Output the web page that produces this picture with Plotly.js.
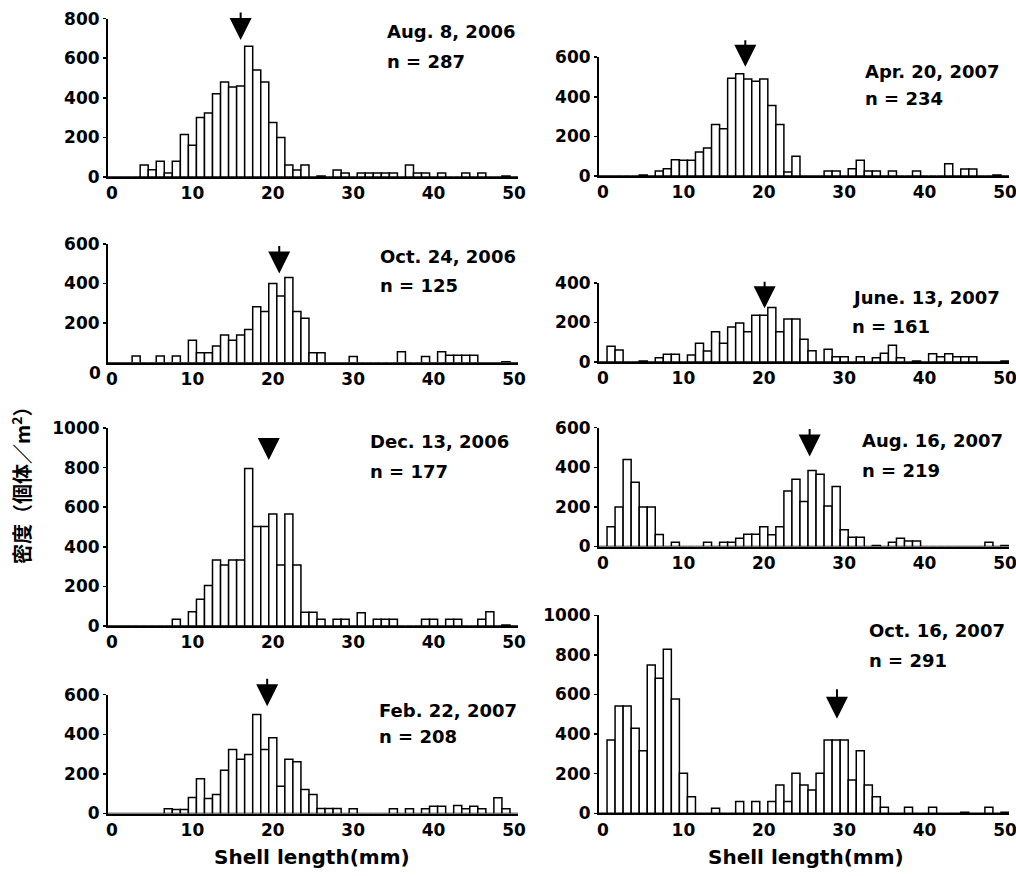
<!DOCTYPE html>
<html>
<head>
<meta charset="utf-8">
<script src="https://cdn.plot.ly/plotly-3.0.1.min.js"></script>
<style>
html,body{margin:0;padding:0;background:#ffffff;}
#chart{width:1016px;height:876px;}
</style>
</head>
<body>
<div id="chart"></div>
<script>
// ---------------- DATA ----------------
// shell-length size classes (mm), bin centres
const sizeClass = [0,1,2,3,4,5,6,7,8,9,10,11,12,13,14,15,16,17,18,19,20,21,22,23,24,25,26,27,28,29,30,31,32,33,34,35,36,37,38,39,40,41,42,43,44,45,46,47,48,49,50];

// densities (individuals / m2) per size class
const aug2006 = [0,0,0,0,60,37,80,20,80,215, 160,300,323,420,480,455,460,660,540,480, 275,200,60,35,60,0,5,0,35,20, 0,20,20,20,20,20,0,60,20,20, 0,20,0,0,20,0,20,0,0,5,0];
const oct2006 = [0,0,0,34,0,0,34,0,34,0, 114,50,50,84,140,114,140,168,283,258, 400,337,430,258,224,50,50,0,0,0, 31,0,0,0,0,0,55,0,0,31, 0,55,38,38,38,38,0,0,0,5,0];
const dec2006 = [0,0,0,0,0,0,0,0,34,0, 72,135,204,333,308,333,333,796,502,502, 566,308,566,308,69,69,34,0,34,34, 0,67,0,34,34,34,0,0,0,34, 34,0,34,34,0,0,34,72,0,5,0];
const feb2007 = [0,0,0,0,0,0,0,24,20,20, 81,175,76,96,219,323,274,298,500,323, 382,138,274,261,121,96,25,25,25,0, 24,0,0,0,0,24,0,24,0,24, 37,37,0,40,24,37,24,0,79,24,0];
const apr2007 = [0,0,0,0,0,5,0,25,37,82, 80,80,121,141,260,239,494,516,490,479, 490,356,260,20,100,0,0,0,25,25, 0,37,80,25,25,0,25,0,0,25, 0,0,0,62,0,35,35,0,0,5,0];
const jun2007 = [0,80,60,0,0,5,0,22,39,39, 0,35,95,55,153,95,177,197,153,236, 236,275,153,217,217,115,57,0,64,27, 27,0,27,0,22,44,84,22,0,5, 0,42,27,42,27,27,27,0,0,0,5];
const aug2007 = [0,100,200,440,325,200,200,60,0,22, 0,0,0,22,0,22,22,42,62,62, 100,59,100,280,340,227,384,365,205,303, 84,47,47,0,5,0,22,42,28,28, 0,0,0,0,0,0,0,0,22,0,5];
const oct2007 = [0,370,542,542,429,316,749,682,828,577, 202,84,0,0,25,0,0,59,0,59, 0,59,143,59,202,143,118,202,370,370, 370,168,316,143,84,30,0,0,30,0, 0,30,0,0,0,5,0,0,30,0,5];

// sampling dates, sample sizes, modal shell length (arrow) and its density
const dateLabels = ["Aug. 8, 2006","Apr. 20, 2007","Oct. 24, 2006","June. 13, 2007","Dec. 13, 2006","Aug. 16, 2007","Feb. 22, 2007","Oct. 16, 2007"];
const sampleN    = [287, 234, 125, 161, 177, 219, 208, 291];
const modeLength = [16.0, 17.7, 20.8, 20.1, 19.5, 25.7, 19.3, 29.1];
const modeLevel  = [692, 552, 451, 271, 838, 455, 542, 478];
const yMax       = [800, 600, 600, 400, 1000, 600, 600, 1000];
const xTicks     = [0,10,20,30,40,50];

const seriesList = [aug2006, apr2007, oct2006, jun2007, dec2006, aug2007, feb2007, oct2007];

// ---------------- LAYOUT SPEC (pixels) ----------------
const W = 1016, H = 876;
const colX = [[108,518],[599,1009]];
// [column, bottom px, top px, label x, label line1 y, label line2 y, arrow length]
const spec = [
  [0, 177.0,  18.6, 385, 31.7, 61.7, 29],
  [1, 176.0,  57.2, 863, 71.7, 98.3, 28],
  [0, 362.7, 243.9, 378, 256.7, 285.0, 29],
  [1, 362.0, 282.8, 850, 298.0, 326.7, 28],
  [0, 626.0, 428.0, 368, 441.7, 471.7, 23],
  [1, 546.5, 427.7, 860, 440.0, 470.0, 29],
  [0, 813.5, 694.7, 377, 710.0, 736.7, 29],
  [1, 813.3, 615.3, 867, 630.0, 660.0, 31]
];

const px = v => v / W;
const py = v => 1 - v / H;
const FONT = 'DejaVu Sans, Liberation Sans, Arial, sans-serif';

const data = [];
const layout = {
  width: W, height: H,
  margin: {l:0, r:0, t:0, b:0},
  paper_bgcolor: '#ffffff',
  plot_bgcolor: 'rgba(0,0,0,0)',
  showlegend: false,
  bargap: 0,
  font: {family: FONT, size: 17, color: '#000', weight: 'bold'},
  annotations: []
};

seriesList.forEach((vals, i) => {
  const k = i + 1;
  const s = spec[i];
  const xa = 'x' + k, ya = 'y' + k;
  data.push({
    type: 'bar',
    x: sizeClass,
    y: vals,
    width: 1,
    xaxis: xa, yaxis: ya,
    marker: {color: '#ffffff', line: {color: '#000000', width: 1.5}},
    hoverinfo: 'x+y'
  });
  const xc = colX[s[0]];
  layout['xaxis' + k] = {
    domain: [px(xc[0]), px(xc[1])],
    range: [-0.5, 50.5],
    anchor: ya,
    tickvals: xTicks,
    ticktext: xTicks.map(String),
    ticks: '',
    ticklabeloverflow: 'allow',
    showline: true, linecolor: '#000', linewidth: 2,
    showgrid: false, zeroline: false,
    tickfont: {family: FONT, size: 17, color: '#000', weight: 'bold'},
    fixedrange: true
  };
  const yt = [];
  for (let v = (i === 2 ? 200 : 0); v <= yMax[i]; v += 200) yt.push(v);
  layout['yaxis' + k] = {
    domain: [py(s[1]), py(s[2])],
    range: [0, yMax[i]],
    anchor: xa,
    tickvals: yt,
    ticks: 'outside', ticklen: 3, tickwidth: 1.5, tickcolor: '#000',
    ticklabeloverflow: 'allow',
    showline: true, linecolor: '#000', linewidth: 2,
    showgrid: false, zeroline: false,
    tickfont: {family: FONT, size: 17, color: '#000', weight: 'bold'},
    fixedrange: true
  };
  // date and sample size
  layout.annotations.push({
    xref: 'paper', yref: 'paper', x: px(s[3]), y: py(s[4]),
    xanchor: 'left', yanchor: 'middle', showarrow: false,
    text: dateLabels[i],
    font: {family: FONT, size: 18, color: '#000', weight: 'bold'}
  });
  layout.annotations.push({
    xref: 'paper', yref: 'paper', x: px(s[3]), y: py(s[5]),
    xanchor: 'left', yanchor: 'middle', showarrow: false,
    text: 'n = ' + sampleN[i],
    font: {family: FONT, size: 18, color: '#000', weight: 'bold'}
  });
  // mode arrow
  layout.annotations.push({
    xref: xa, yref: ya, x: modeLength[i], y: modeLevel[i],
    ax: 0, ay: -s[6], axref: 'pixel', ayref: 'pixel',
    text: '', showarrow: true,
    arrowhead: 2, arrowsize: 2.2, arrowwidth: 2, arrowcolor: '#000'
  });
});

// extra y-axis zero label for Oct. 24, 2006 panel (printed next to the x "0")
layout.annotations.push({
  xref: 'paper', yref: 'paper', x: px(103), y: py(373),
  xanchor: 'right', yanchor: 'middle', showarrow: false,
  text: '0', font: {family: FONT, size: 17, color: '#000', weight: 'bold'}
});

// axis titles
layout.annotations.push({
  xref: 'paper', yref: 'paper', x: px(312), y: py(857),
  xanchor: 'center', yanchor: 'middle', showarrow: false,
  text: 'Shell length(mm)', font: {family: FONT, size: 20, color: '#000', weight: 'bold'}
});
layout.annotations.push({
  xref: 'paper', yref: 'paper', x: px(806), y: py(857),
  xanchor: 'center', yanchor: 'middle', showarrow: false,
  text: 'Shell length(mm)', font: {family: FONT, size: 20, color: '#000', weight: 'bold'}
});
layout.annotations.push({
  xref: 'paper', yref: 'paper', x: px(21), y: py(480),
  xanchor: 'center', yanchor: 'middle', showarrow: false, textangle: -90,
  text: '密度（個体／m<sup>2</sup>）',
  font: {family: 'Noto Sans CJK JP, Noto Sans CJK SC, sans-serif', size: 20, color: '#000', weight: 'bold'}
});

Plotly.newPlot('chart', data, layout, {staticPlot: true, displayModeBar: false});
</script>
</body>
</html>
